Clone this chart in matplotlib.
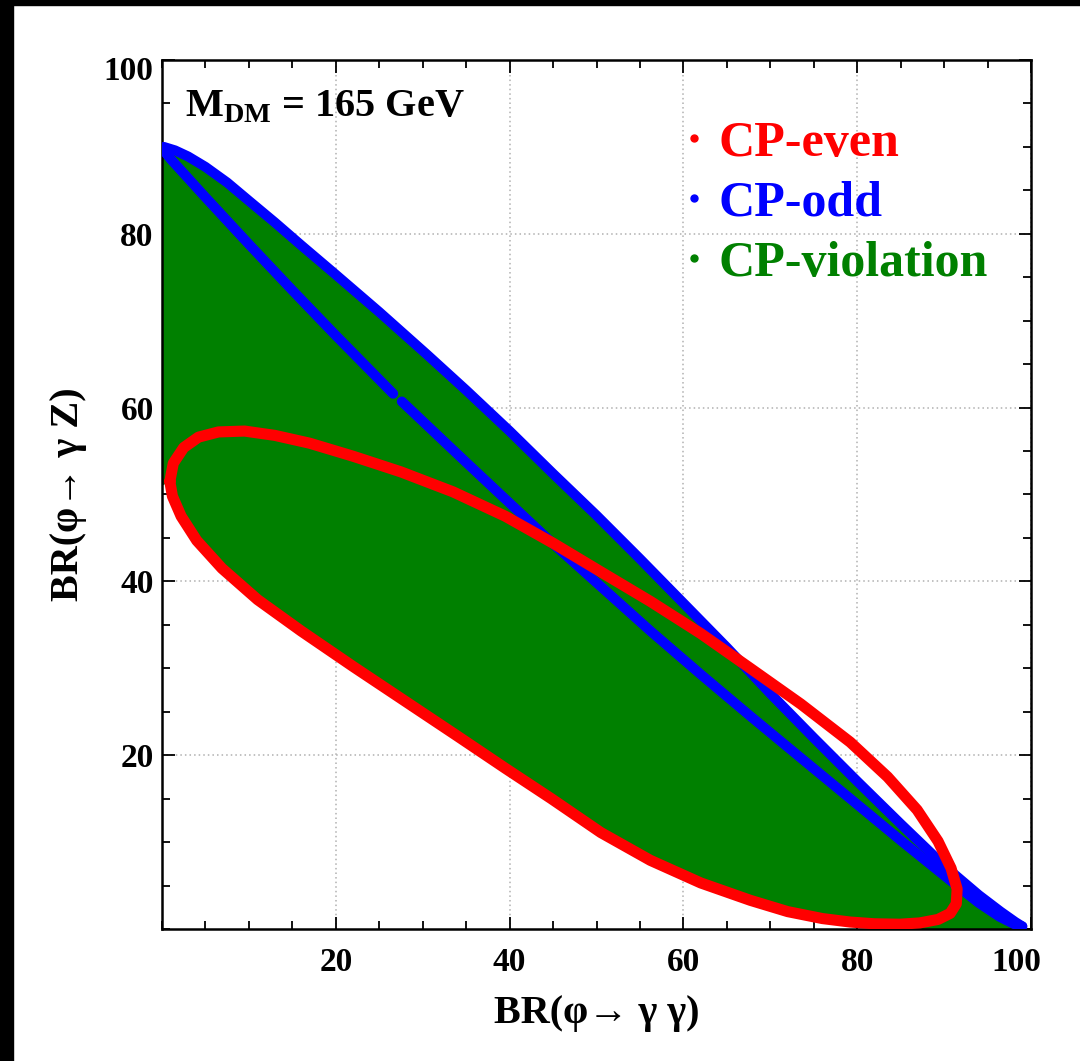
import numpy as np
import matplotlib
matplotlib.use('Agg')
import matplotlib.pyplot as plt
from matplotlib.patches import Rectangle
from matplotlib.transforms import ScaledTranslation

plt.rcParams['font.family'] = ['Liberation Serif', 'DejaVu Serif']
plt.rcParams['font.weight'] = 'bold'
plt.rcParams['axes.labelweight'] = 'bold'
plt.rcParams['mathtext.fontset'] = 'custom'
plt.rcParams['mathtext.rm'] = 'Liberation Serif:bold'
plt.rcParams['mathtext.bf'] = 'Liberation Serif:bold'

# CP-odd band: outer and inner edge of the blue loop
odd_outer_x = [0.2, 1.5, 3.0, 5.0, 7.5, 10.0, 13.0, 16.0, 20.0, 25.0, 30.5, 35.0, 40.0, 45.0, 50.0,
               55.0, 60.0, 65.0, 70.0, 75.0, 80.0, 85.0, 90.0, 94.0, 96.5, 98.2, 99.0]
odd_outer_y = [90.0, 89.6, 88.9, 87.7, 85.9, 83.8, 81.3, 78.7, 75.3, 71.0, 66.1, 62.0, 57.3, 52.4, 47.6,
               42.6, 37.5, 32.4, 27.1, 22.0, 17.0, 12.1, 7.3, 3.9, 2.0, 0.8, 0.3]
odd_inner_x = [0.2, 1.0, 5.0, 10.0, 15.0, 20.0, 26.6, np.nan, 27.6, 35.0, 44.6, 50.4, 56.2, 62.0,
               67.7, 73.5, 79.2, 85.0, 90.7, 94.0, 96.4, 98.2, 99.0]
odd_inner_y = [89.6, 88.6, 84.2, 78.8, 73.5, 68.3, 61.6, np.nan, 60.7, 53.7, 44.7, 39.5, 34.3, 29.3,
               24.5, 19.7, 15.0, 10.2, 5.6, 3.0, 1.4, 0.5, 0.3]

# CP-even closed loop (red)
even_x = [0.9, 1.3, 2.5, 4.2, 6.5, 9.5, 13.0, 17.0, 22.0, 27.5, 33.5, 39.5, 45.0, 50.5, 56.2, 62.0,
          67.7, 73.5, 79.2, 83.5, 86.9, 89.3, 90.8, 91.5, 91.4, 90.7, 89.3, 87.2, 84.9, 82.0, 79.2,
          76.0, 72.0, 67.7, 62.0, 56.2, 50.5, 44.8, 39.5, 34.0, 28.0, 22.0, 16.0, 11.0, 6.9, 4.0,
          2.2, 1.2, 0.9]
even_y = [51.5, 53.6, 55.4, 56.6, 57.2, 57.3, 56.8, 55.9, 54.4, 52.6, 50.3, 47.5, 44.4, 41.1, 37.7, 34.0,
          30.0, 25.9, 21.5, 17.5, 13.7, 10.1, 7.0, 4.6, 2.9, 1.8, 1.1, 0.7, 0.55, 0.6, 0.8,
          1.2, 2.0, 3.3, 5.3, 7.9, 11.1, 15.0, 18.5, 22.2, 26.2, 30.2, 34.3, 37.9, 41.5, 44.7,
          47.5, 49.8, 51.5]

# CP-violation region edge (green): upper edge follows the blue band, lower the red loop
low = slice(28, 49)
viol_x = odd_outer_x + [99.4, 86.0] + even_x[low] + [0.0, 0.0]
viol_y = odd_outer_y + [0.0, 0.0] + even_y[low] + [51.0, 90.0]

fig = plt.figure(figsize=(10.8, 10.61), dpi=100)
ax = fig.add_axes([162 / 1080, 132 / 1061, 869 / 1080, 869 / 1061])

ax.fill(viol_x, viol_y, color='#008000', lw=0, zorder=2)
ax.plot(odd_outer_x, odd_outer_y, color='#0000ff', lw=7.2, solid_capstyle='round',
        solid_joinstyle='round', zorder=3)
ax.plot(odd_inner_x, odd_inner_y, color='#0000ff', lw=7.2, solid_capstyle='round',
        solid_joinstyle='round', zorder=3)
ax.plot(even_x, even_y, color='#ff0000', lw=8, solid_capstyle='round',
        solid_joinstyle='round', zorder=4)

ax.set_xlim(0, 100)
ax.set_ylim(0, 100)
ticks = [20, 40, 60, 80, 100]
ax.set_xticks(ticks)
ax.set_yticks(ticks)
ax.set_xticks(np.arange(0, 101, 5), minor=True)
ax.set_yticks(np.arange(0, 101, 5), minor=True)
ax.tick_params(which='both', direction='in', top=True, right=True, labelsize=24, width=1.3)
ax.tick_params(which='major', length=9, pad=13)
ax.tick_params(axis='y', which='major', pad=6)
ax.tick_params(which='minor', length=5.5)
ax.grid(True, which='major', color='#b0b0b0', linestyle=(0, (1, 2)), lw=1.1, zorder=1)
for s in ax.spines.values():
    s.set_linewidth(1.8)

# last labels are pulled inside like in the original
xl = ax.get_xticklabels()[-1]
xl.set_transform(xl.get_transform() + ScaledTranslation(-0.15, 0, fig.dpi_scale_trans))
yl = ax.get_yticklabels()[-1]
yl.set_transform(yl.get_transform() + ScaledTranslation(0, -0.08, fig.dpi_scale_trans))

ax.set_xlabel('BR(φ→ γ γ)', fontsize=29, fontweight='bold', labelpad=12)
ax.set_ylabel('BR(φ→ γ Z)', fontsize=29, fontweight='bold', labelpad=12)

ax.text(0.026, 0.935, r'$\mathbf{M}_{\mathbf{DM}}$ = 165 GeV', transform=ax.transAxes,
        fontsize=29, va='baseline', ha='left', zorder=5)

legend_items = ['CP-even', 'CP-odd', 'CP-violation']
legend_colors = ['#ff0000', '#0000ff', '#008000']
for i, (lab, col) in enumerate(zip(legend_items, legend_colors)):
    yb = 0.890 - i * 0.069
    ax.plot([0.612], [yb + 0.02], 'o', color=col, ms=5, transform=ax.transAxes, zorder=5)
    ax.text(0.64, yb, lab, color=col, fontsize=36, transform=ax.transAxes,
            va='baseline', ha='left', zorder=5)

# black screen edge at top and left
fig.add_artist(Rectangle((0, 0), 13 / 1080, 1, transform=fig.transFigure, color='black'))
fig.add_artist(Rectangle((0, 1 - 5 / 1061), 1, 5 / 1061, transform=fig.transFigure, color='black'))

fig.savefig('out.png', dpi=100)
